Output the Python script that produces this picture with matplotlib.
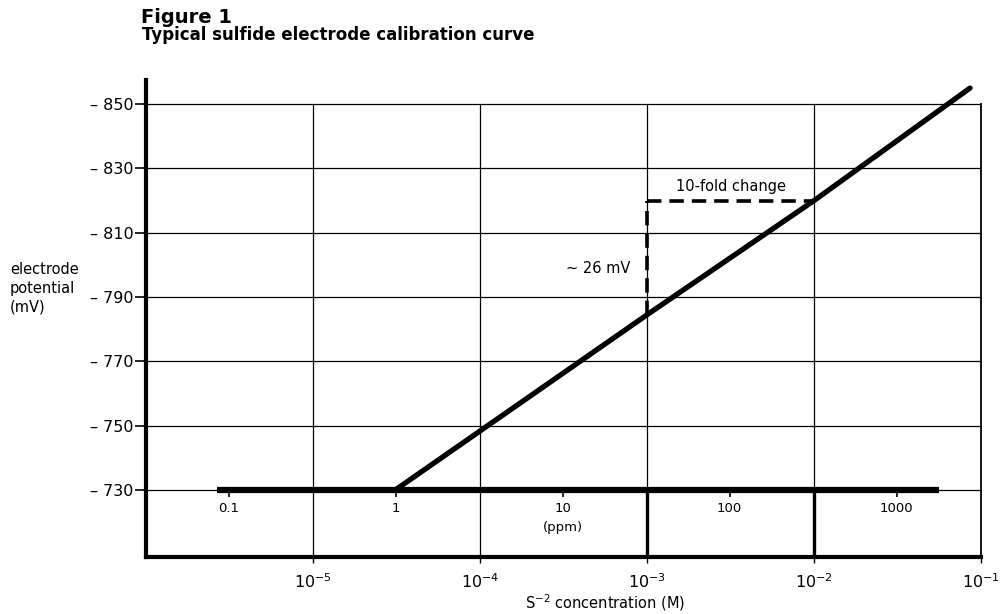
import matplotlib
matplotlib.use("Agg")
import matplotlib.pyplot as plt

plt.rcParams['font.family'] = ['DejaVu Sans']
plt.rcParams['mathtext.fontset'] = 'dejavusans'

# ---- data ----
mv_ticks = [730, 750, 770, 790, 810, 830, 850]
mv_tick_labels = ["– 730", "– 750", "– 770", "– 790", "– 810", "– 830", "– 850"]
molar_decades = [1e-5, 1e-4, 1e-3, 1e-2, 1e-1]
molar_labels = [r"$10^{-5}$", r"$10^{-4}$", r"$10^{-3}$", r"$10^{-2}$", r"$10^{-1}$"]
ppm_values = [0.1, 1, 10, 100, 1000]
ppm_labels = ["0.1", "1", "10", "100", "1000"]
ppm_per_molar = 32060.0  # mg/L per mol/L of S(2-)
ppm_axis_range = [0.085, 1800]

curve_conc_M = [3.1e-5, 1e-3, 1e-2, 8.6e-2]
curve_mv = [730, 784.5, 820, 855]

step_conc_M = [1e-3, 1e-2]
step_mv = [784.5, 820]

# ---- figure ----
W, H = 1007, 614
fig = plt.figure(figsize=(W / 100, H / 100), dpi=100)
ax = fig.add_axes([146 / W, (H - 557) / H, (981 - 146) / W, (557 - 80) / H])
ax.set_xscale('log')
xmin, xmax = 1e-6, 1e-1
ymin, ymax = 709.2, 857.5
ax.set_xlim(xmin, xmax)
ax.set_ylim(ymin, ymax)

# spines
ax.spines['top'].set_visible(False)
ax.spines['left'].set_linewidth(3)
ax.spines['bottom'].set_linewidth(3)
ax.spines['right'].set_linewidth(1.3)
ax.spines['right'].set_bounds(ymin, mv_ticks[-1])

# grid
ax.hlines(mv_ticks, xmin, xmax, colors='black', lw=0.9, zorder=1)
ax.vlines(molar_decades[:-1], ymin, mv_ticks[-1], colors='black', lw=0.9, zorder=1)
# heavier lower portions
ax.vlines(step_conc_M, ymin, mv_ticks[0], colors='black', lw=2.4, zorder=2)

# ppm axis along 730 mV
ppm_M = [p / ppm_per_molar for p in ppm_values]
ax.plot([ppm_axis_range[0] / ppm_per_molar, ppm_axis_range[1] / ppm_per_molar],
        [mv_ticks[0], mv_ticks[0]], color='black', lw=4.5, solid_capstyle='butt', zorder=3)
ax.vlines(ppm_M, mv_ticks[0] - 2.3, mv_ticks[0], colors='black', lw=1.2, zorder=3)
for xm, lab in zip(ppm_M, ppm_labels):
    ax.text(xm, 724.4, lab, ha='center', va='center', fontsize=9.5)
ax.text(ppm_M[2], 718.4, "(ppm)", ha='center', va='center', fontsize=9.5)

# calibration curve
ax.plot(curve_conc_M, curve_mv, color='black', lw=3.8, solid_capstyle='round', zorder=4,
        clip_on=False)

# 10-fold change step (dashed)
ax.plot([step_conc_M[0], step_conc_M[0]], [step_mv[0], step_mv[1]], color='black', lw=2.6,
        dashes=(4, 2.2), zorder=4)
ax.plot([step_conc_M[0], step_conc_M[1]], [step_mv[1], step_mv[1]], color='black', lw=2.6,
        dashes=(4, 2.2), zorder=4)
ax.text((step_conc_M[0] * step_conc_M[1]) ** 0.5, 824.4, "10-fold change",
        ha='center', va='center', fontsize=10.5)
ax.text(step_conc_M[0] * 0.8, 799, "∼ 26 mV", ha='right', va='center', fontsize=10.5)

# ticks
ax.set_yticks(mv_ticks)
ax.set_yticklabels(mv_tick_labels)
ax.tick_params(axis='y', direction='out', length=8, width=1.2, pad=1, labelsize=11.5)
ax.set_xticks(molar_decades)
ax.set_xticklabels(molar_labels)
ax.xaxis.set_minor_locator(matplotlib.ticker.NullLocator())
ax.tick_params(axis='x', direction='out', length=4, width=1, pad=7, labelsize=11.5)

# labels
fig.text(605 / W, 1 - 603 / H, r"S$^{-2}$ concentration (M)", ha='center', va='center', fontsize=10.5)
fig.text(10 / W, 1 - 288 / H, "electrode\npotential\n(mV)", ha='left', va='center',
         fontsize=10.5, linespacing=1.3)
fig.text(141 / W, 1 - 23 / H, "Figure 1", ha='left', va='baseline', fontsize=14, fontweight='bold')
fig.text(142 / W, 1 - 40 / H, "Typical sulfide electrode calibration curve", ha='left',
         va='baseline', fontsize=12, fontweight='bold')

fig.savefig("out.png", dpi=100)
